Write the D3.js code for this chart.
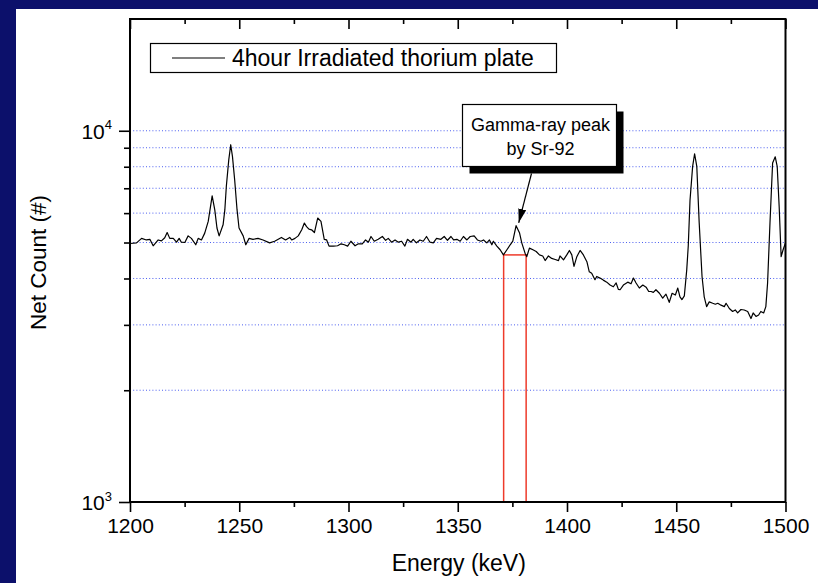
<!DOCTYPE html>
<html><head><meta charset="utf-8">
<script src="https://cdn.jsdelivr.net/npm/d3@7"></script>
<style>
html,body{margin:0;padding:0;background:#0c106b;}
svg{display:block;}
text{font-family:"Liberation Sans",Arial,sans-serif;fill:#000;}
</style></head>
<body>
<svg id="chart" width="818" height="583"></svg>
<script>
// ---- data ----
const energy = [
1200.0,1203.0,1205.3,1207.5,1209.1,1210.6,1212.9,1214.4,1215.9,1217.0,1218.2,1219.8,1221.3,1222.5,1223.5,1225.1,1226.6,1228.1,1230.1,1231.2,1232.7,1234.2,1235.8,1237.6,1238.8,1239.8,1240.8,1242.6,1243.4,1244.1,1245.2,1246.1,1246.9,1247.9,1249.0,1249.9,1251.8,1253.0,1254.5,1256.3,1258.6,1260.9,1263.9,1266.2,1269.3,1271.2,1273.1,
1274.0,1275.5,1277.0,1278.6,1279.8,1280.8,1281.9,1283.1,1284.4,1285.9,1287.4,1288.9,1290.0,1291.1,1293.1,1295.0,1296.6,1298.1,1299.6,1301.1,1303.0,1304.5,1306.3,1307.8,1309.1,1310.3,1311.8,1313.6,1315.5,1317.0,1318.2,1319.7,1321.3,1322.8,1324.3,1325.8,1327.0,1328.6,1329.6,1331.1,1332.7,1334.2,1335.7,1337.3,1338.8,1340.3,1342.3,1343.8,1345.3,1346.9,
1348.1,1349.6,1351.1,1352.6,1354.2,1355.7,1357.5,1359.0,1360.6,1361.8,1363.3,1364.5,1365.6,1366.3,1367.9,1369.4,1370.9,1372.5,1374.0,1375.2,1376.7,1378.3,1379.3,1380.8,1381.6,1382.8,1384.4,1385.9,1387.4,1388.9,1390.0,1391.5,1393.0,1394.6,1396.1,1396.8,1398.4,1399.9,1401.1,1402.2,1403.2,1404.5,1406.0,1407.5,1409.1,1410.2,1411.3,1412.8,1413.6,1415.1,1416.6,1418.2,1419.7,1421.2,1422.5,1423.5,
1424.3,1425.8,1427.8,1429.3,1430.4,1431.6,1433.1,1434.7,1436.2,1437.4,1438.5,1439.5,1440.7,1442.3,1443.8,1445.3,1446.8,1448.1,1449.6,1450.7,1451.7,1452.6,1453.7,1454.8,1455.5,1456.3,1457.5,1458.4,1459.4,1460.5,1461.8,1462.8,1463.9,1465.1,1466.7,1467.9,1469.0,1470.5,1472.0,1472.8,1474.3,1475.8,1477.0,1478.1,1479.6,1481.1,1482.7,1484.2,1485.2,1486.5,1487.7,1488.7,1490.0,1491.0,1491.8,1492.9,1494.1,1495.3,1496.2,1497.1,1498.0,1498.9,1500.0
];
const counts = [
4970,4990,5130,5080,5100,4900,5080,5050,5150,5320,5130,5130,5010,5130,5010,5000,5210,5130,4930,5130,5080,5300,5700,6680,6120,5470,5210,5580,6120,7100,8350,9170,8520,7380,6120,5470,5210,4930,5130,5100,5130,5080,4990,5040,5160,5080,5160,
5080,5130,5210,5410,5640,5520,5430,5410,5320,5820,5700,5100,5080,4890,4890,4900,4960,4930,4890,5040,4900,4960,4960,5080,5010,5190,5040,5100,5190,5070,5130,5010,5080,5010,5040,4890,5100,5010,5100,4990,5080,5040,5190,5010,4990,5130,5100,5190,5070,5190,
5080,5100,5040,5190,5080,5190,5210,5080,5040,5080,4990,5080,4930,5040,4890,4780,4630,4780,4930,5040,5550,5300,4990,4680,4580,4830,4780,4730,4630,4600,4470,4600,4530,4500,4470,4600,4490,4630,4760,4630,4310,4580,4760,4630,4440,4170,4130,3970,4050,4010,3960,3910,3840,3800,3890,3740,
3730,3840,3910,3870,4010,3890,3770,3840,3790,3690,3690,3670,3730,3650,3540,3630,3450,3650,3610,3770,3570,3510,3590,4220,4900,6500,8020,8670,8020,5650,4050,3570,3360,3460,3430,3410,3430,3390,3360,3430,3320,3260,3290,3230,3300,3290,3260,3120,3230,3160,3190,3260,3230,3360,3890,5650,8190,8510,8020,6250,4580,4780,4990
];
const xMajorTicks = [1200,1250,1300,1350,1400,1450,1500];
const xMinorTicks = [1225,1275,1325,1375,1425,1475];
const yMajorTicks = [1000,10000];
const yMinorTicks = [2000,3000,4000,5000,6000,7000,8000,9000];
const gridValues = [2000,3000,4000,5000,6000,7000,8000,9000,10000];
const legendLabel = "4hour Irradiated thorium plate";
const noteLines = ["Gamma-ray peak","by Sr-92"];
const windowEnergy = [1371.0, 1381.3];
const windowTop = 4630;
const arrowTip = [1377.9, 5650];
const xTitle = "Energy (keV)";
const yTitle = "Net Count (#)";

// ---- layout ----
const svg = d3.select("#chart");
const L = 130, R = 785.5, T = 19, B = 502;
const x = d3.scaleLinear().domain([1200,1500]).range([L,R]);
const y = d3.scaleLog().domain([1000,20000]).range([B,T]);

svg.append("rect").attr("x",16).attr("y",9).attr("width",802).attr("height",574).attr("fill","#fff");

// grid
svg.append("g").selectAll("line").data(gridValues).join("line")
  .attr("x1",L).attr("x2",R).attr("y1",d=>y(d)).attr("y2",d=>y(d))
  .attr("stroke","#4c5ff0").attr("stroke-width",1).attr("stroke-dasharray","1,2.2");

// red window
svg.append("rect")
  .attr("x",x(windowEnergy[0])).attr("y",y(windowTop))
  .attr("width",x(windowEnergy[1])-x(windowEnergy[0])).attr("height",B-y(windowTop))
  .attr("fill","none").attr("stroke","#ee3b2b").attr("stroke-width",1.5);

// spectrum
const pts = energy.map((e,i)=>[e,counts[i]]);
svg.append("path").datum(pts)
  .attr("d",d3.line().x(d=>x(d[0])).y(d=>y(d[1])))
  .attr("fill","none").attr("stroke","#000").attr("stroke-width",1.2).attr("stroke-linejoin","round");

// axes
const axStyle = g => { g.select(".domain").remove(); g.selectAll("line").attr("stroke","#000").attr("stroke-width",1.6); };
svg.append("g").attr("transform",`translate(0,${B})`)
  .call(d3.axisBottom(x).tickValues(xMajorTicks).tickSize(10).tickFormat(d3.format("d")))
  .call(axStyle)
  .call(g=>g.selectAll("text").attr("font-size",21).attr("y",16).attr("dy","0.71em").attr("fill","#000").style("font-family","'Liberation Sans',Arial,sans-serif"));
svg.append("g").attr("transform",`translate(0,${B})`)
  .call(d3.axisBottom(x).tickValues(xMinorTicks).tickSize(5).tickFormat(""))
  .call(axStyle);
svg.append("g").attr("transform",`translate(0,${T})`)
  .call(d3.axisBottom(x).tickValues(xMajorTicks).tickSize(10).tickFormat(""))
  .call(axStyle);
svg.append("g").attr("transform",`translate(0,${T})`)
  .call(d3.axisBottom(x).tickValues(xMinorTicks).tickSize(5).tickFormat(""))
  .call(axStyle);
const yl = svg.append("g").attr("transform",`translate(${L},0)`)
  .call(d3.axisLeft(y).tickValues(yMajorTicks).tickSize(11).tickFormat(""))
  .call(axStyle);
svg.append("g").attr("transform",`translate(${L},0)`)
  .call(d3.axisLeft(y).tickValues(yMinorTicks).tickSize(6).tickFormat(""))
  .call(axStyle);
yl.selectAll(".tick").each(function(d){
  const t = d3.select(this).append("text").attr("x",-18).attr("y",0).attr("dy","0.38em")
    .attr("text-anchor","end").attr("font-size",21).attr("fill","#000");
  t.append("tspan").text("10");
  t.append("tspan").attr("font-size",13).attr("dy","-0.75em").text(Math.round(Math.log10(d)));
});

// frame
svg.append("rect").attr("x",L).attr("y",T).attr("width",R-L).attr("height",B-T)
  .attr("fill","none").attr("stroke","#000").attr("stroke-width",2);

// titles
svg.append("text").attr("x",(L+R)/2+1).attr("y",571).attr("text-anchor","middle").attr("font-size",23).text(xTitle);
svg.append("text").attr("transform",`translate(46,${(T+B)/2+2}) rotate(-90)`).attr("text-anchor","middle").attr("font-size",22.5).text(yTitle);

// legend
const lg = svg.append("g");
lg.append("rect").attr("x",150.5).attr("y",43.5).attr("width",406).attr("height",29).attr("fill","#fff").attr("stroke","#000").attr("stroke-width",1.2);
lg.append("line").attr("x1",172).attr("x2",225).attr("y1",58).attr("y2",58).attr("stroke","#000").attr("stroke-width",1.2);
lg.append("text").attr("x",232).attr("y",66).attr("font-size",23).text(legendLabel);

// annotation box with shadow
const bx = 462.5, by = 104.5, bw = 154, bh = 62, sh = 7;
svg.append("rect").attr("x",bx+sh).attr("y",by+sh).attr("width",bw).attr("height",bh).attr("fill","#000");
svg.append("rect").attr("x",bx).attr("y",by).attr("width",bw).attr("height",bh).attr("fill","#fff").attr("stroke","#000").attr("stroke-width",1.2);
svg.append("g").selectAll("text").data(noteLines).join("text")
  .attr("x",bx+bw/2+1).attr("y",(d,i)=>131+i*24).attr("text-anchor","middle").attr("font-size",18).text(d=>d);

// arrow
svg.append("defs").append("marker").attr("id","ah").attr("viewBox","0 0 14 8").attr("refX",14).attr("refY",4)
  .attr("markerWidth",14).attr("markerHeight",8).attr("markerUnits","userSpaceOnUse").attr("orient","auto")
  .append("path").attr("d","M0,0 L14,4 L0,8 z").attr("fill","#000");
svg.append("line").attr("x1",531.5).attr("y1",by+bh+sh).attr("x2",x(arrowTip[0])).attr("y2",y(arrowTip[1]))
  .attr("stroke","#000").attr("stroke-width",1.2).attr("marker-end","url(#ah)");
</script>
</body></html>
